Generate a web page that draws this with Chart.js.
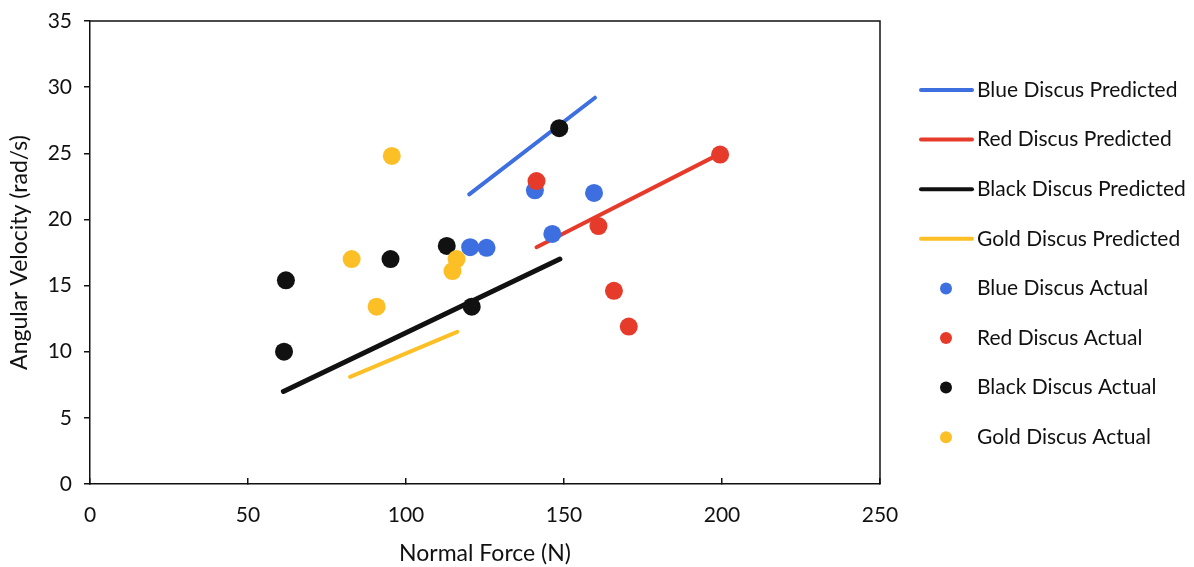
<!DOCTYPE html>
<html>
<head>
<meta charset="utf-8">
<script src="https://cdn.jsdelivr.net/npm/chart.js@4/dist/chart.umd.min.js"></script>
<style>
html, body { margin: 0; padding: 0; background: #fff; }
</style>
</head>
<body>
<canvas id="canvas" width="1194" height="567"></canvas>
<script>
// predicted lines (two end points each)
const bluePredX = [120.0, 159.8];
const bluePredY = [21.9, 29.2];
const redPredX = [141.3, 198.8];
const redPredY = [17.9, 24.9];
const blackPredX = [61.2, 148.7];
const blackPredY = [7.0, 17.0];
const goldPredX = [82.3, 116.2];
const goldPredY = [8.1, 11.5];

// measured points
const blueActX = [120.3, 125.5, 146.3, 140.8, 159.5];
const blueActY = [17.9, 17.85, 18.9, 22.2, 22.0];
const redActX = [141.3, 160.9, 165.8, 170.5, 199.4];
const redActY = [22.9, 19.5, 14.6, 11.9, 24.9];
const blackActX = [148.5, 112.9, 95.1, 62.0, 61.4, 120.8];
const blackActY = [26.9, 18.0, 17.0, 15.4, 10.0, 13.4];
const goldActX = [95.5, 82.8, 90.7, 116.0, 114.7];
const goldActY = [24.8, 17.0, 13.4, 17.0, 16.1];

const xTicks = [0, 50, 100, 150, 200, 250];
const yTicks = [0, 5, 10, 15, 20, 25, 30, 35];

const BLUE = '#3d6fe0';
const RED = '#e63b2b';
const BLACK = '#111111';
const GOLD = '#fcbf26';
const FONT = 'Lato, "Open Sans", sans-serif';

function pts(xs, ys) {
  return xs.map((x, i) => ({ x: x, y: ys[i] }));
}

function lineSet(label, xs, ys, color, width, order) {
  return {
    type: 'line', label: label, data: pts(xs, ys),
    borderColor: color, backgroundColor: color, borderWidth: width,
    borderCapStyle: 'round', pointRadius: 0, showLine: true, fill: false,
    order: order, kind: 'line'
  };
}

function dotSet(label, xs, ys, color, order) {
  return {
    type: 'scatter', label: label, data: pts(xs, ys),
    backgroundColor: color, borderColor: color, borderWidth: 0,
    pointRadius: 9, pointHoverRadius: 9, order: order, kind: 'dot'
  };
}

const datasets = [
  lineSet('Blue Discus Predicted', bluePredX, bluePredY, BLUE, 4, 7),
  lineSet('Red Discus Predicted', redPredX, redPredY, RED, 4, 6),
  lineSet('Black Discus Predicted', blackPredX, blackPredY, BLACK, 5, 5),
  lineSet('Gold Discus Predicted', goldPredX, goldPredY, GOLD, 4, 4),
  dotSet('Blue Discus Actual', blueActX, blueActY, BLUE, 3),
  dotSet('Red Discus Actual', redActX, redActY, RED, 2),
  dotSet('Black Discus Actual', blackActX, blackActY, BLACK, 1),
  dotSet('Gold Discus Actual', goldActX, goldActY, GOLD, 0)
];

// box around the plot area
const framePlugin = {
  id: 'frame',
  afterDatasetsDraw(chart) {
    const a = chart.chartArea, c = chart.ctx;
    c.save();
    c.strokeStyle = '#111';
    c.lineWidth = 1.5;
    c.beginPath();
    c.moveTo(a.left, a.top);
    c.lineTo(a.right, a.top);
    c.lineTo(a.right, a.bottom);
    c.stroke();
    c.restore();
  }
};

// legend on the right
const legendPlugin = {
  id: 'sideLegend',
  afterDraw(chart) {
    const c = chart.ctx;
    c.save();
    c.font = '21px ' + FONT;
    c.textBaseline = 'middle';
    chart.data.datasets.forEach((ds, i) => {
      const y = 90 + i * 49.6;
      if (ds.kind === 'line') {
        c.strokeStyle = ds.borderColor;
        c.lineWidth = 4;
        c.lineCap = 'round';
        c.beginPath();
        c.moveTo(921, y);
        c.lineTo(972, y);
        c.stroke();
      } else {
        c.fillStyle = ds.backgroundColor;
        c.beginPath();
        c.arc(946, y, 6, 0, Math.PI * 2);
        c.fill();
      }
      c.fillStyle = '#111';
      c.fillText(ds.label, 977, y);
    });
    c.restore();
  }
};

const ctx = document.getElementById('canvas').getContext('2d');
new Chart(ctx, {
  type: 'scatter',
  data: { datasets: datasets },
  options: {
    responsive: false,
    animation: false,
    layout: { padding: { left: 0, top: 21, right: 314, bottom: 0 } },
    plugins: { legend: { display: false }, tooltip: { enabled: false } },
    scales: {
      x: {
        type: 'linear', min: 0, max: 250,
        afterBuildTicks: s => { s.ticks = xTicks.map(v => ({ value: v })); },
        afterFit: s => { s.height = 83; s.paddingLeft = 0; s.paddingRight = 0; },
        ticks: { color: '#111', font: { family: FONT, size: 21 }, padding: 25 },
        grid: { drawOnChartArea: false, tickLength: -6, color: '#111', lineWidth: 1.5 },
        border: { color: '#111', width: 1.5 },
        title: { display: true, text: 'Normal Force (N)', color: '#111',
                 font: { family: FONT, size: 23 }, padding: { top: 0, bottom: 0 } }
      },
      y: {
        type: 'linear', min: 0, max: 35,
        afterBuildTicks: s => { s.ticks = yTicks.map(v => ({ value: v })); },
        afterFit: s => { s.width = 90; s.paddingTop = 0; s.paddingBottom = 0; },
        ticks: { color: '#111', font: { family: FONT, size: 21 }, padding: 12 },
        grid: { drawOnChartArea: false, tickLength: 6, color: '#111', lineWidth: 1.5 },
        border: { color: '#111', width: 1.5 },
        title: { display: true, text: 'Angular Velocity (rad/s)', color: '#111',
                 font: { family: FONT, size: 23 }, padding: { top: 6, bottom: 0 } }
      }
    }
  },
  plugins: [framePlugin, legendPlugin]
});
</script>
</body>
</html>
